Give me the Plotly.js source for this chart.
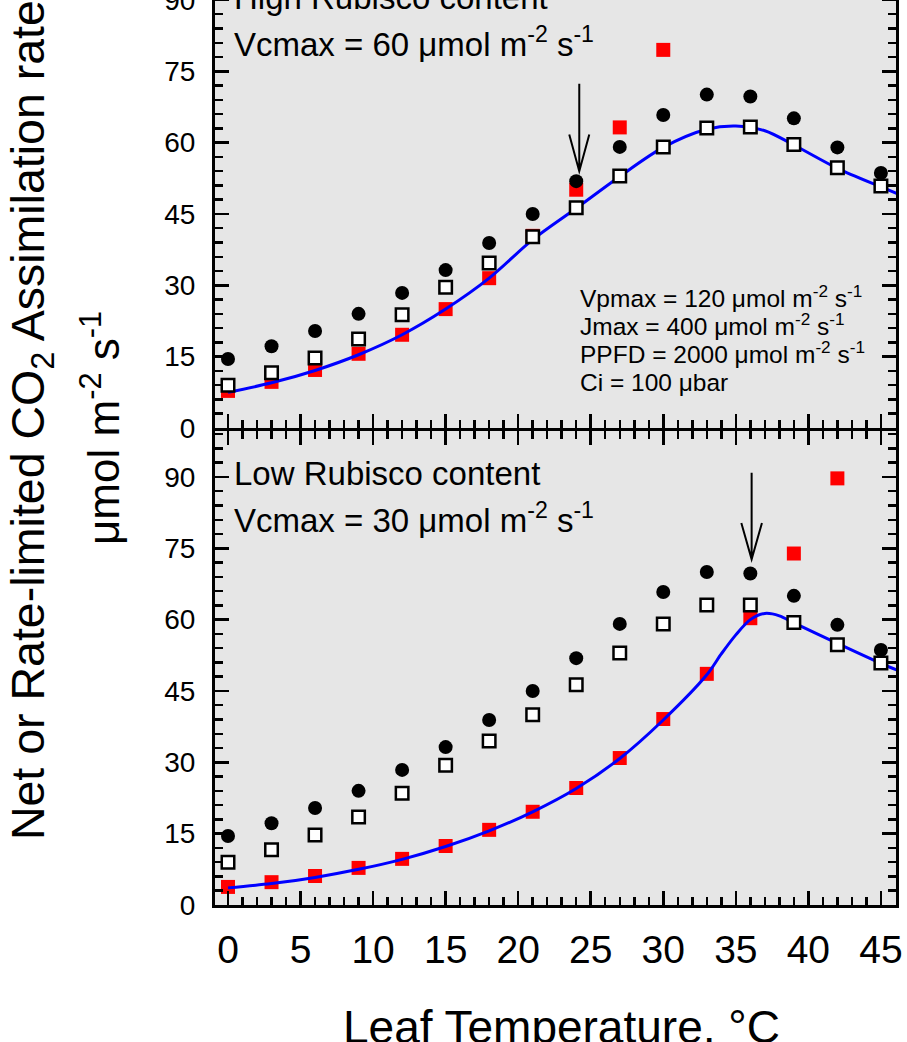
<!DOCTYPE html>
<html>
<head>
<meta charset="utf-8">
<script src="https://cdn.plot.ly/plotly-3.0.1.min.js"></script>
<style>
  html, body { margin: 0; padding: 0; background: #fff; overflow: hidden; width: 907px; height: 1042px; }
  #wrap { position: relative; width: 907px; height: 1042px; overflow: hidden; }
  #chart { position: absolute; left: 0; top: -46px; width: 907px; height: 1088px; }
</style>
</head>
<body>
<div id="wrap"><div id="chart"></div></div>
<script>
// ---- Data ----
const temps = [0, 3, 6, 9, 12, 15, 18, 21, 24, 27, 30, 33, 36, 39, 42, 45];

// High Rubisco content panel (Vcmax = 60)
const highCircles = [14.5, 17.2, 20.4, 24.0, 28.4, 33.2, 38.9, 45.0, 51.9, 59.1, 65.8, 70.1, 69.7, 65.1, 59.0, 53.6];
const highOpenSq  = [9.0, 11.6, 14.7, 18.7, 23.8, 29.6, 34.7, 40.2, 46.3, 53.0, 59.1, 63.1, 63.3, 59.6, 54.7, 50.9];
const highRedSq   = [7.8, 9.7, 12.2, 15.6, 19.6, 25.0, 31.5, 40.4, 50.1, 63.2, 79.5, null, null, null, null, null];

// Low Rubisco content panel (Vcmax = 30)
const lowCircles = [14.5, 17.2, 20.4, 24.0, 28.4, 33.2, 38.9, 45.0, 51.9, 59.1, 65.8, 70.0, 69.7, 65.0, 58.9, 53.6];
const lowOpenSq  = [9.0, 11.6, 14.7, 18.5, 23.5, 29.4, 34.5, 40.0, 46.3, 53.0, 59.1, 63.1, 63.1, 59.4, 54.7, 50.9];
const lowRedSq   = [3.8, 4.8, 6.1, 7.8, 9.7, 12.4, 15.8, 19.6, 24.6, 30.9, 39.1, 48.6, 60.3, 73.9, 89.7, null];

// Model curves (blue lines)
const highCurveT = [0, 3, 6, 9, 12, 15, 18, 21, 24, 27, 30, 33, 35, 37, 39, 42, 45, 46.1];
const highCurveA = [7.5, 9.5, 12.1, 15.4, 19.6, 25.0, 31.5, 39.6, 46.2, 52.9, 59.0, 62.8, 63.5, 62.5, 59.5, 54.6, 50.7, 49.3];
const lowCurveT  = [0, 3, 6, 9, 12, 15, 18, 21, 24, 27, 30, 33, 34, 35, 36, 37, 38, 39, 42, 45, 46.1];
const lowCurveA  = [3.6, 4.5, 5.8, 7.5, 9.6, 12.3, 15.6, 19.6, 24.5, 30.8, 38.9, 48.4, 52.8, 56.8, 60.0, 61.3, 60.8, 59.3, 55.0, 50.8, 49.4];

const yTicks = [0, 15, 30, 45, 60, 75, 90];
const xTicks = [0, 5, 10, 15, 20, 25, 30, 35, 40, 45];

// ---- Styling ----
const FONT = 'Liberation Sans, Arial, Helvetica, sans-serif';
const RED = '#ff0000', BLUE = '#0000ff';

function panelTraces(xa, ya, red, curveT, curveA, openSq, circles) {
  return [
    { x: temps, y: red, xaxis: xa, yaxis: ya, type: 'scatter', mode: 'markers',
      marker: { symbol: 'square', size: 14, color: RED, line: { width: 0 } }, hoverinfo: 'skip' },
    { x: curveT, y: curveA, xaxis: xa, yaxis: ya, type: 'scatter', mode: 'lines',
      line: { color: BLUE, width: 3, shape: 'spline', smoothing: 0.9 }, hoverinfo: 'skip' },
    { x: temps, y: openSq, xaxis: xa, yaxis: ya, type: 'scatter', mode: 'markers',
      marker: { symbol: 'square', size: 12.5, color: '#ffffff', line: { color: '#000', width: 2.5 } }, hoverinfo: 'skip' },
    { x: temps, y: circles, xaxis: xa, yaxis: ya, type: 'scatter', mode: 'markers',
      marker: { symbol: 'circle', size: 14, color: '#000000', line: { width: 0 } }, hoverinfo: 'skip' }
  ];
}

const data = [].concat(
  panelTraces('x2', 'y2', highRedSq, highCurveT, highCurveA, highOpenSq, highCircles),
  panelTraces('x', 'y', lowRedSq, lowCurveT, lowCurveA, lowOpenSq, lowCircles)
);

const gap = 3 / 951;
const xRange = [-0.896, 46.04];
const yRange = [0, 99.66];

const axisCommon = {
  showline: true, linecolor: '#000', linewidth: 3, mirror: 'allticks',
  ticks: 'inside', ticklen: 14, tickwidth: 2.5, tickcolor: '#000',
  showgrid: false, zeroline: false, fixedrange: true
};

const xCommon = Object.assign({}, axisCommon, {
  range: xRange, tickmode: 'array', tickvals: xTicks, ticktext: xTicks.map(String),
  minor: { ticks: 'inside', ticklen: 8, tickwidth: 2.5, tickcolor: '#000', dtick: 1, tick0: 0, showgrid: false },
  tickfont: { family: FONT, size: 39, color: '#000' }
});
const yCommon = Object.assign({}, axisCommon, {
  range: yRange, tickmode: 'array', tickvals: yTicks, ticktext: yTicks.map(String),
  minor: { ticks: 'inside', ticklen: 8, tickwidth: 2.5, tickcolor: '#000', dtick: 3, tick0: 0, showgrid: false },
  tickfont: { family: FONT, size: 28, color: '#000' }, ticklabelstandoff: 11
});

function ann(text, x, y, size, opts) {
  return Object.assign({ text: text, x: x, y: y, xref: 'paper', yref: 'paper', showarrow: false,
    xanchor: 'left', yanchor: 'bottom', borderpad: 0,
    font: { family: FONT, size: size, color: '#000' } }, opts || {});
}

const um = '\u03bcmol m<sup>-2</sup> s<sup>-1</sup>';
const annotations = [
  ann('High Rubisco content', 0.027, 0.9338, 33),
  ann('Vcmax = 60 ' + um, 0.027, 0.8843, 33),
  ann('Low Rubisco content', 0.027, 0.4332, 33),
  ann('Vcmax = 30 ' + um, 0.027, 0.3838, 33),
  ann('Vpmax = 120 ' + um, 0.535, 0.6225, 24.5),
  ann('Jmax = 400 ' + um, 0.535, 0.5931, 24.5),
  ann('PPFD = 2000 ' + um, 0.535, 0.5636, 24.5),
  ann('Ci = 100 \u03bcbar', 0.535, 0.5342, 24.5),
  ann('Leaf Temperature, \u00b0C', 0.5095, -0.1565, 46, { xanchor: 'center' }),
  ann('Net or Rate-limited CO<sub>2</sub> Assimilation rate', -0.2245, 0.5095, 46.5,
      { xanchor: 'right', yanchor: 'middle', textangle: -90 }),
  ann('\u03bcmol m<sup>-2</sup> s<sup>-1</sup>', -0.1263, 0.5021, 44,
      { xanchor: 'right', yanchor: 'middle', textangle: -90 })
];

// arrows (open V heads)
const shapes = [
  { type: 'path', xref: 'x2', yref: 'y2', line: { color: '#000', width: 2 },
    path: 'M 24.21,72.4 L 24.21,54.0 M 23.52,61.7 L 24.21,54.0 L 24.90,61.7' },
  { type: 'path', xref: 'x', yref: 'y', line: { color: '#000', width: 2 },
    path: 'M 36.09,90.9 L 36.09,72.7 M 35.38,80.3 L 36.09,72.7 L 36.80,80.3' }
];

const layout = {
  width: 907, height: 1088,
  margin: { l: 215, r: 11, t: 0, b: 137, pad: 0 },
  paper_bgcolor: '#ffffff', plot_bgcolor: '#e6e6e6',
  showlegend: false,
  font: { family: FONT, color: '#000' },
  xaxis: Object.assign({}, xCommon, { anchor: 'y', ticklabelstandoff: 8 }),
  yaxis: Object.assign({}, yCommon, { anchor: 'x', domain: [0, 0.5 - gap / 2] }),
  xaxis2: Object.assign({}, xCommon, { anchor: 'y2', matches: 'x', showticklabels: false }),
  yaxis2: Object.assign({}, yCommon, { anchor: 'x2', domain: [0.5 + gap / 2, 1] }),
  annotations: annotations,
  shapes: shapes
};

Plotly.newPlot('chart', data, layout, { displayModeBar: false, staticPlot: true });
</script>
</body>
</html>
